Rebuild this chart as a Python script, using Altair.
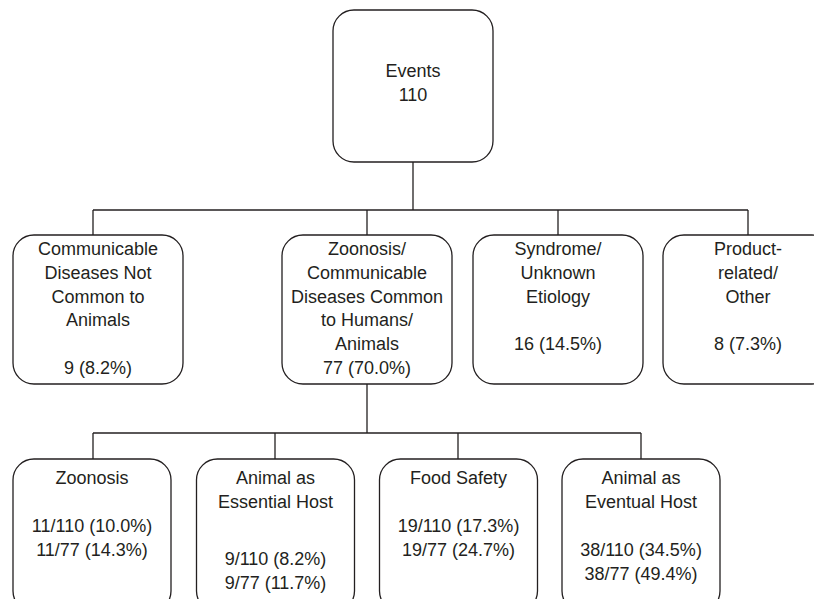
import altair as alt
import pandas as pd

# ---------------- data ----------------
root_label = "Events"
root_count = 110

cat_labels = [
    ["Communicable", "Diseases Not", "Common to", "Animals", ""],
    ["Zoonosis/", "Communicable", "Diseases Common", "to Humans/", "Animals"],
    ["Syndrome/", "Unknown", "Etiology", ""],
    ["Product-", "related/", "Other", ""],
]
cat_counts = [9, 77, 16, 8]
cat_pcts = ["8.2", "70.0", "14.5", "7.3"]

sub_labels = [
    ["Zoonosis", ""],
    ["Animal as", "Essential Host", ""],
    ["Food Safety", ""],
    ["Animal as", "Eventual Host", ""],
]
sub_counts = [11, 9, 19, 38]
sub_pct_total = ["10.0", "8.2", "17.3", "34.5"]
sub_pct_zoo = ["14.3", "11.7", "24.7", "49.4"]
zoo_total = 77

# ---------------- layout (pixel positions of the diagram) ----------------
root_box = (333, 493, 10, 162)
l2_centers = [98, 367, 558, 748]
l2_drops = [93, 367, 558, 748]
l2_w = 170
l2_top, l2_bot = 235, 384
l2_bus_y = 210
l3_centers = [92, 275.5, 458.5, 641]
l3_drops = [93, 275, 458, 641]
l3_w = 158
l3_top, l3_bot = 459, 612
l3_bus_y = 433
l3_count_y = [527, 560, 527, 551]
lh = 23.8
FS = 18
INK = "#231f20"

boxes = [dict(x=root_box[0], x2=root_box[1], y=root_box[2], y2=root_box[3])]
for c in l2_centers:
    boxes.append(dict(x=c - l2_w / 2, x2=c + l2_w / 2, y=l2_top, y2=l2_bot))
for c in l3_centers:
    boxes.append(dict(x=c - l3_w / 2, x2=c + l3_w / 2, y=l3_top, y2=l3_bot))
boxes = pd.DataFrame(boxes)

rootx = (root_box[0] + root_box[1]) / 2
rules = [dict(x=rootx, x2=rootx, y=root_box[3], y2=l2_bus_y),
         dict(x=min(l2_drops), x2=max(l2_drops), y=l2_bus_y, y2=l2_bus_y)]
for d in l2_drops:
    rules.append(dict(x=d, x2=d, y=l2_bus_y, y2=l2_top))
zx = l2_drops[1]
rules.append(dict(x=zx, x2=zx, y=l2_bot, y2=l3_bus_y))
rules.append(dict(x=min(l3_drops), x2=max(l3_drops), y=l3_bus_y, y2=l3_bus_y))
for d in l3_drops:
    rules.append(dict(x=d, x2=d, y=l3_bus_y, y2=l3_top))
rules = pd.DataFrame(rules)

texts = [dict(x=rootx, y=72, t=root_label), dict(x=rootx, y=72 + lh, t=str(root_count))]
for i, lines in enumerate(cat_labels):
    allines = lines + [f"{cat_counts[i]} ({cat_pcts[i]}%)"]
    for j, s in enumerate(allines):
        texts.append(dict(x=l2_centers[i], y=250 + j * lh, t=s))
for i, lines in enumerate(sub_labels):
    for j, s in enumerate(lines):
        texts.append(dict(x=l3_centers[i], y=479 + j * lh, t=s))
    texts.append(dict(x=l3_centers[i], y=l3_count_y[i],
                      t=f"{sub_counts[i]}/{root_count} ({sub_pct_total[i]}%)"))
    texts.append(dict(x=l3_centers[i], y=l3_count_y[i] + lh,
                      t=f"{sub_counts[i]}/{zoo_total} ({sub_pct_zoo[i]}%)"))
texts = pd.DataFrame(texts)
texts = texts[texts.t != ""]

W, H = 806, 591
xs = alt.Scale(domain=[8, 8 + W], nice=False, zero=False)
ys = alt.Scale(domain=[8, 8 + H], nice=False, zero=False, reverse=True)

rect = alt.Chart(boxes).mark_rect(
    fill="white", stroke=INK, strokeWidth=1.3, cornerRadius=21
).encode(
    x=alt.X("x:Q", scale=xs, axis=None), x2="x2:Q",
    y=alt.Y("y:Q", scale=ys, axis=None), y2="y2:Q",
)

rule = alt.Chart(rules).mark_rule(color=INK, strokeWidth=1.3).encode(
    x=alt.X("x:Q", scale=xs, axis=None), x2="x2:Q",
    y=alt.Y("y:Q", scale=ys, axis=None), y2="y2:Q",
)

text = alt.Chart(texts).mark_text(
    font="Liberation Sans", fontSize=FS, color=INK, align="center", baseline="middle"
).encode(
    x=alt.X("x:Q", scale=xs, axis=None),
    y=alt.Y("y:Q", scale=ys, axis=None),
    text="t:N",
)

chart = alt.layer(rule, rect, text).properties(
    width=W, height=H, background="white", padding=0,
    autosize=alt.AutoSizeParams(type="none"),
).configure_view(stroke=None)

chart.save("out.html", embed_options={"renderer": "svg", "actions": False})
